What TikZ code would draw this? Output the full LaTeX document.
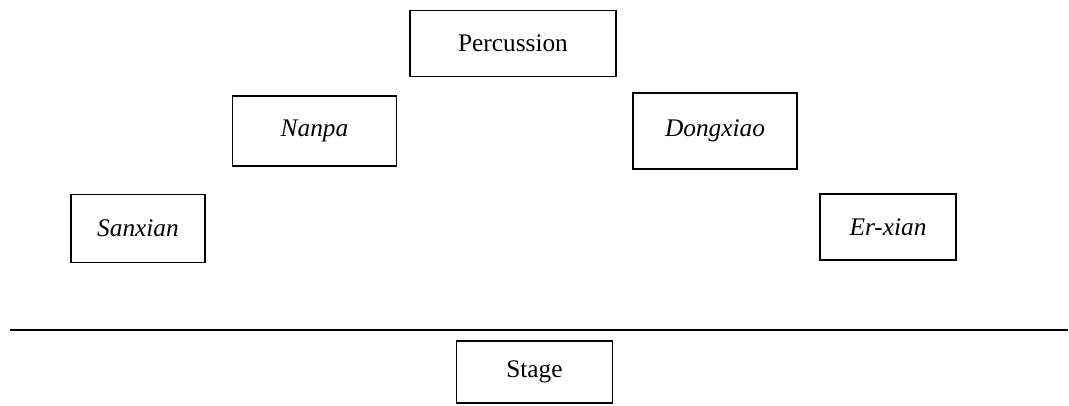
\documentclass[tikz,border=0pt]{standalone}
\usepackage{fontspec}
\setmainfont{Liberation Serif}
\usetikzlibrary{positioning}

\begin{document}
\begin{tikzpicture}[x=0.75pt,y=-0.75pt,line width=0.9pt,
    inst/.style={draw,rectangle,inner sep=2pt,font=\fontsize{19}{23}\selectfont\itshape},
    plain/.style={inst,font=\fontsize{19}{23}\selectfont}]
                \useasboundingbox (0,0) rectangle (1069,405);
                \node[plain,minimum width=154.5pt,minimum height=50pt] (perc) at (513,43.5) {Percussion};
                \node[inst,minimum width=123.5pt,minimum height=52.5pt] (nanpa) at (314.5,131) {Nanpa};
                \node[inst,minimum width=123pt,minimum height=57pt] (dong) at (715,131) {Dongxiao};
                \node[inst,minimum width=100.5pt,minimum height=51.5pt] (sanx) at (138,228.5) {Sanxian};
                \node[inst,minimum width=102pt,minimum height=49.5pt] (erx) at (888,227) {Er-xian};
                \node[plain,minimum width=117.5pt,minimum height=46.5pt] (stage) at (534.5,372) {Stage};
                \coordinate (edgeL) at (10,330);
                \coordinate (edgeR) at (1068,330);
                \draw (edgeL) -- (edgeR);
\end{tikzpicture}
\end{document}
